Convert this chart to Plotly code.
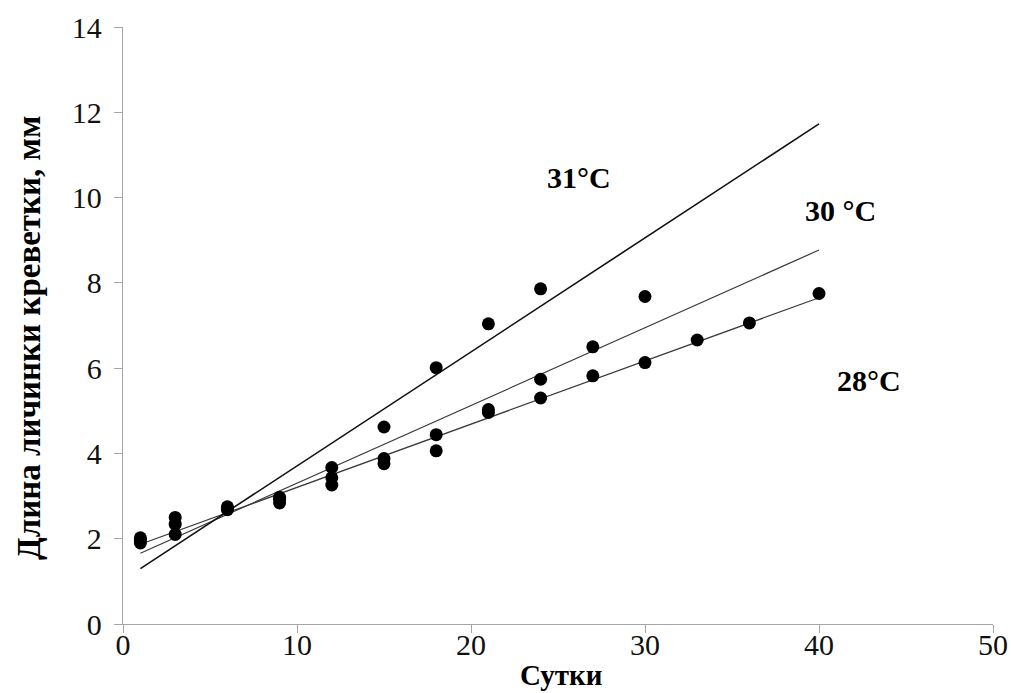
import plotly.graph_objects as go
import numpy as np

# Data (days vs larva length, mm)
days_28 = [1, 3, 6, 9, 12, 15, 18, 21, 24, 27, 30, 33, 36, 40]
len_28 = [1.90, 2.10, 2.68, 2.84, 3.26, 3.76, 4.06, 4.96, 5.30, 5.82, 6.13, 6.66, 7.06, 7.75]

days_30 = [1, 3, 6, 9, 12, 15, 18, 21, 24, 27, 30]
len_30 = [1.97, 2.34, 2.72, 2.97, 3.43, 3.88, 4.44, 5.03, 5.74, 6.50, 7.68]

days_31 = [1, 3, 6, 9, 12, 15, 18, 21, 24]
len_31 = [2.02, 2.50, 2.75, 2.92, 3.67, 4.62, 6.01, 7.04, 7.86]

# Linear trend lines as drawn on the chart: (slope, intercept)
trend_28 = (0.1482, 1.722)
trend_30 = (0.1823, 1.478)
trend_31 = (0.2674, 1.033)
trend_days = [1, 40]

labels = ["28°C", "30 °C", "31°C"]
label_pos = [(42.87, 5.70), (41.26, 9.69), (26.2, 10.46)]

x_ticks = [0, 10, 20, 30, 40, 50]
y_ticks = [0, 2, 4, 6, 8, 10, 12, 14]

fig = go.Figure()

tx = np.array(trend_days, dtype=float)
for (a, b), col, w in [(trend_28, "#3a3a3a", 1.2), (trend_30, "#3a3a3a", 1.2), (trend_31, "#111111", 1.6)]:
    fig.add_trace(go.Scatter(x=tx, y=a * tx + b, mode="lines",
                             line=dict(color=col, width=w), showlegend=False, hoverinfo="skip"))

for xs, ys in [(days_28, len_28), (days_30, len_30), (days_31, len_31)]:
    fig.add_trace(go.Scatter(x=xs, y=ys, mode="markers",
                             marker=dict(color="black", size=13, line=dict(width=0)),
                             showlegend=False))

serif = "Liberation Serif, Times New Roman, serif"

for txt, (lx, ly) in zip(labels, label_pos):
    fig.add_annotation(x=lx, y=ly, text="<b>" + txt + "</b>", showarrow=False,
                       font=dict(family=serif, size=30, color="black"))

fig.add_annotation(xref="paper", yref="paper", x=0.503, y=-0.085, xanchor="center", yanchor="middle",
                   text="<b>Сутки</b>", showarrow=False,
                   font=dict(family=serif, size=29, color="black"))
fig.add_annotation(xref="paper", yref="paper", x=-0.108, y=0.479, xanchor="center", yanchor="middle",
                   textangle=-90,
                   text="<b>Длина личинки креветки, мм</b>", showarrow=False,
                   font=dict(family=serif, size=33, color="black"))

axis_common = dict(showgrid=False, zeroline=False, showline=True, linecolor="#a6a6a6",
                   linewidth=1.3, ticks="outside", ticklen=8, tickcolor="#a6a6a6", tickwidth=1.3,
                   automargin=False,
                   tickfont=dict(family=serif, size=30, color="#111111"))

fig.update_xaxes(range=[0, 50], tickvals=x_ticks, ticklabelstandoff=-14,
                 ticklabeloverflow="allow", **axis_common)
fig.update_yaxes(range=[0, 14], tickvals=y_ticks, ticklabelstandoff=6, **axis_common)

fig.update_layout(width=1011, height=693, margin=dict(l=123, r=18, t=27, b=69),
                  plot_bgcolor="white", paper_bgcolor="white", showlegend=False)

fig.write_html("out.html")
